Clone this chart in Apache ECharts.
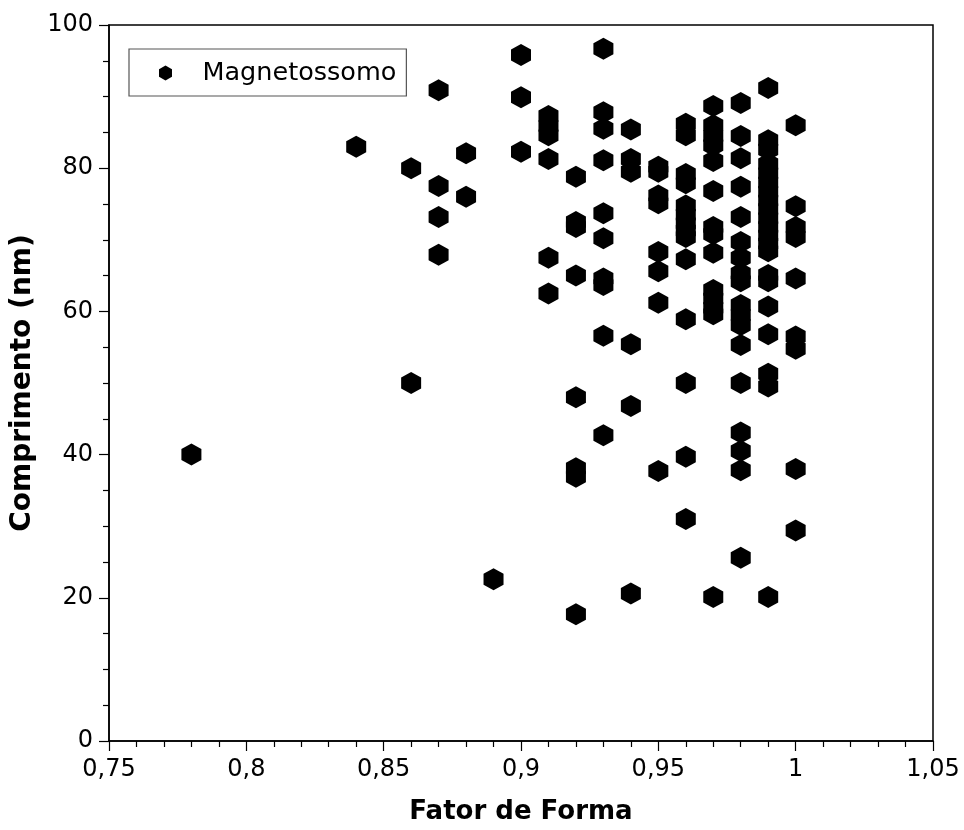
<!DOCTYPE html>
<html>
<head>
<meta charset="utf-8">
<title>Magnetossomo</title>
<script src="https://cdn.jsdelivr.net/npm/echarts@6/dist/echarts.min.js"></script>
<style>
  html, body { margin: 0; padding: 0; background: #fff; }
  #chart { width: 964px; height: 830px; }
</style>
</head>
<body>
<div id="chart"></div>
<script>
// fator de forma (x) de cada coluna e os comprimentos (nm) lidos nela
const fator = [0.78, 0.84, 0.86, 0.87, 0.88, 0.89, 0.90, 0.91, 0.92, 0.93, 0.94, 0.95, 0.96, 0.97, 0.98, 0.99, 1.00];
const c078 = [40];
const c084 = [83];
const c086 = [80, 50];
const c087 = [90.9, 77.5, 73.2, 67.9];
const c088 = [82.1, 76];
const c089 = [22.6];
const c090 = [95.8, 89.9, 82.3];
const c091 = [87.3, 85.9, 84.6, 81.3, 67.5, 62.5];
const c092 = [78.8, 72.5, 71.8, 65, 48, 38.1, 36.9, 17.7];
const c093 = [96.7, 87.8, 85.5, 81.1, 73.7, 70.2, 64.6, 63.7, 56.6, 42.7];
const c094 = [85.4, 81.3, 79.5, 55.4, 46.8, 20.6];
const c095 = [80.2, 79.5, 76.2, 75.1, 68.3, 65.6, 61.2, 37.7];
const c096 = [86.2, 84.6, 79.2, 77.9, 74.8, 73.5, 72.3, 71.3, 70.4, 67.3, 58.9, 50, 39.7, 31];
const c097 = [88.7, 86, 84.5, 83.2, 81, 76.8, 71.8, 70.8, 68.2, 63, 61.8, 60.5, 59.6, 20.1];
const c098 = [89.1, 84.5, 81.4, 77.4, 73.2, 69.7, 67.5, 65.3, 64.2, 60.9, 59.5, 58.1, 55.3, 50, 43.1, 40.5, 37.8, 25.6];
const c099 = [91.2, 83.9, 82.6, 80.6, 79.3, 78, 76.7, 75.5, 74.3, 73, 71.8, 70.6, 69.5, 68.4, 65.1, 64.2, 60.7, 56.8, 51.3, 49.5, 20.1];
const c100 = [86, 74.7, 71.8, 70.4, 64.6, 56.5, 54.8, 38, 29.4];
const comprimentos = [c078, c084, c086, c087, c088, c089, c090, c091, c092, c093, c094, c095, c096, c097, c098, c099, c100];

const xTicks = [0.75, 0.8, 0.85, 0.9, 0.95, 1, 1.05];
const yTicks = [0, 20, 40, 60, 80, 100];

const pontos = [];
fator.forEach(function (f, i) {
  comprimentos[i].forEach(function (c) { pontos.push([f, c]); });
});

const hexagono = 'path://M0,-11 L9.526,-5.5 L9.526,5.5 L0,11 L-9.526,5.5 L-9.526,-5.5 Z';
const fonte = '"DejaVu Sans", Verdana, sans-serif';

const chart = echarts.init(document.getElementById('chart'));
chart.setOption({
  backgroundColor: '#fff',
  animation: false,
  grid: {
    left: 109, top: 25, right: 31, bottom: 87,
    show: true, borderColor: '#000', borderWidth: 1.5
  },
  legend: {
    left: 129, top: 49,
    orient: 'vertical',
    padding: [11, 10, 10, 30],
    borderColor: '#555', borderWidth: 1.2,
    itemWidth: 14, itemHeight: 15,
    textStyle: { fontFamily: fonte, fontSize: 25.5, color: '#000', padding: [0, 0, 0, 25] },
    data: [{ name: 'Magnetossomo', icon: hexagono }]
  },
  xAxis: {
    type: 'value',
    min: xTicks[0], max: xTicks[xTicks.length - 1], interval: 0.05,
    name: 'Fator de Forma',
    nameLocation: 'middle', nameGap: 58,
    nameTextStyle: { fontFamily: fonte, fontSize: 26, fontWeight: 'bold', color: '#000' },
    axisLine: { lineStyle: { color: '#000', width: 1.5 } },
    axisTick: { show: true, length: 10, lineStyle: { color: '#000', width: 1.2 } },
    minorTick: { show: true, splitNumber: 5, length: 6, lineStyle: { color: '#000', width: 1.2 } },
    splitLine: { show: false },
    axisLabel: {
      margin: 17, fontFamily: fonte, fontSize: 24, color: '#000',
      formatter: function (v) { return String(+v.toFixed(2)).replace('.', ','); }
    }
  },
  yAxis: {
    type: 'value',
    min: yTicks[0], max: yTicks[yTicks.length - 1], interval: 20,
    name: 'Comprimento (nm)',
    nameLocation: 'middle', nameGap: 67,
    nameTextStyle: { fontFamily: fonte, fontSize: 28, fontWeight: 'bold', color: '#000' },
    axisLine: { show: true, lineStyle: { color: '#000', width: 1.5 } },
    axisTick: { show: true, length: 10, lineStyle: { color: '#000', width: 1.2 } },
    minorTick: { show: true, splitNumber: 4, length: 6, lineStyle: { color: '#000', width: 1.2 } },
    splitLine: { show: false },
    axisLabel: { margin: 16, fontFamily: fonte, fontSize: 24, color: '#000' }
  },
  series: [{
    name: 'Magnetossomo',
    type: 'scatter',
    symbol: hexagono,
    symbolSize: [20, 22],
    itemStyle: { color: '#000', opacity: 1 },
    data: pontos
  }]
});
</script>
</body>
</html>
